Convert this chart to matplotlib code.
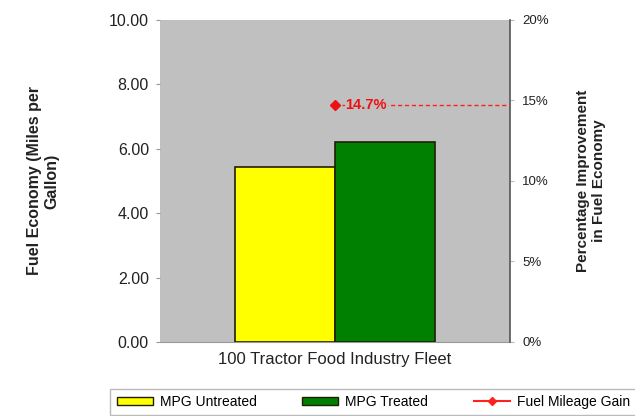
import numpy as np
import matplotlib.pyplot as plt
from matplotlib.patches import Patch
from matplotlib.lines import Line2D

plt.rcParams['font.family'] = ['Liberation Sans', 'DejaVu Sans']

# datos
categoria = '100 Tractor Food Industry Fleet'
series = ['MPG Untreated', 'MPG Treated']
mpg = [5.42, 6.22]
colores = ['#ffff00', '#008000']
ganancia = 14.7  # porcentaje
etiqueta_ganancia = '14.7%'
yticks_izq = [0, 2, 4, 6, 8, 10]
yticks_der = [0, 5, 10, 15, 20]

fig = plt.figure(figsize=(6.35, 4.16), dpi=100)
ax = fig.add_axes([0.252, 0.178, 0.551, 0.774])
ax.set_facecolor('#c0c0c0')

ancho = 0.2857
xs = [-ancho / 2, ancho / 2]
for x, v, c in zip(xs, mpg, colores):
    ax.bar(x, v, width=ancho, color=c, edgecolor='#202000', linewidth=1.2, zorder=3)

ax.set_xlim(-0.5, 0.5)
ax.set_ylim(0, 10)
ax.set_yticks(yticks_izq)
ax.set_yticklabels(['%.2f' % t for t in yticks_izq], fontsize=11.5, color='#222222')
ax.set_xticks([0])
ax.set_xticklabels([categoria], fontsize=12, color='#222222')
ax.tick_params(axis='x', length=0, pad=7)
ax.tick_params(axis='y', length=3, color='#999999', pad=5, right=False)
ax.set_ylabel('Fuel Economy (Miles per\nGallon)', fontsize=11.5, fontweight='bold',
              color='#222222', labelpad=36)
for s in ['left', 'top', 'right']:
    ax.spines[s].set_visible(False)
ax.spines['bottom'].set_color('#999999')

ax2 = ax.twinx()
ax2.set_ylim(0, 20)
ax2.set_yticks(yticks_der)
ax2.set_yticklabels(['%d%%' % t for t in yticks_der], fontsize=9.5, color='#222222')
ax2.tick_params(axis='y', length=3, color='#bbbbbb', pad=6, left=False)
ax2.set_ylabel('Percentage Improvement\nin Fuel Economy', fontsize=11, fontweight='bold',
               color='#222222', labelpad=19)
for s in ['left', 'top', 'bottom']:
    ax2.spines[s].set_visible(False)
ax2.spines['right'].set_color('#555555')
ax2.spines['right'].set_linewidth(1.2)

ax2.hlines(ganancia, 0, 0.5, colors='#ff2020', linestyles=(0, (3, 2)), linewidth=1, zorder=4)
ax2.plot([0], [ganancia], marker='D', color='#ee1111', markersize=5, zorder=5)
ax2.text(0.03, ganancia, etiqueta_ganancia, color='#ee1111', fontsize=10.5, fontweight='bold',
         va='center', ha='left', zorder=6,
         bbox=dict(facecolor='#c0c0c0', edgecolor='none', pad=0.5))

handles = [Patch(facecolor=colores[0], edgecolor='#202000', label=series[0]),
           Patch(facecolor=colores[1], edgecolor='#202000', label=series[1]),
           Line2D([], [], color='#ff2020', marker='D', markersize=4, label='Fuel Mileage Gain')]
leg = fig.legend(handles=handles, loc='lower left', bbox_to_anchor=(0.163, -0.015, 0.85, 0.085),
                 mode='expand', ncol=3, fontsize=10, frameon=True, fancybox=False,
                 handlelength=2.6, handleheight=0.55, borderpad=0.45, columnspacing=1.0,
                 handletextpad=0.5)
leg.get_frame().set_edgecolor('#aaaaaa')

fig.savefig('out.png', dpi=100)
